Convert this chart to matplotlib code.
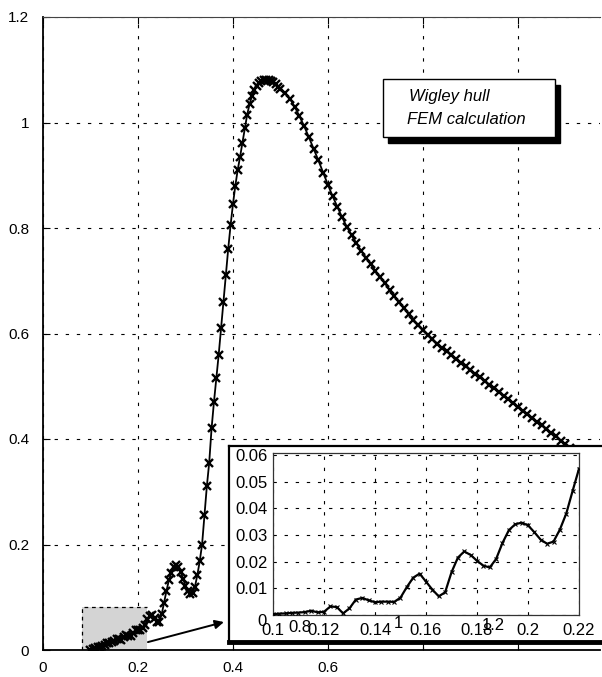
import matplotlib
matplotlib.use('Agg')
import matplotlib.pyplot as plt
from matplotlib.patches import Rectangle

plt.rcParams['font.family'] = ['Liberation Sans', 'DejaVu Sans']
plt.rcParams['hatch.color'] = '#6e6e6e'
plt.rcParams['hatch.linewidth'] = 0.7

# ---------------- data ----------------
x_main = [0.100, 0.105, 0.110, 0.115, 0.120, 0.125, 0.130, 0.135, 0.140, 0.145,
          0.150, 0.155, 0.160, 0.165, 0.170, 0.175, 0.180, 0.185, 0.190, 0.195,
          0.200, 0.205, 0.210, 0.215, 0.220,
          0.225, 0.230, 0.235, 0.240, 0.245, 0.250, 0.255, 0.260, 0.265, 0.270,
          0.275, 0.280, 0.285, 0.290, 0.295, 0.300, 0.305, 0.310, 0.315, 0.320,
          0.325, 0.330, 0.335, 0.340, 0.345, 0.350, 0.355, 0.360, 0.365, 0.370,
          0.375, 0.380, 0.385, 0.390, 0.395, 0.400, 0.405, 0.410, 0.415, 0.420,
          0.425, 0.430, 0.435, 0.440, 0.445, 0.450, 0.455, 0.460, 0.465, 0.470,
          0.475, 0.480, 0.485, 0.490, 0.495, 0.500,
          0.51, 0.52, 0.53, 0.54, 0.55, 0.56, 0.57, 0.58, 0.59, 0.60,
          0.61, 0.62, 0.63, 0.64, 0.65, 0.66, 0.67, 0.68, 0.69, 0.70,
          0.71, 0.72, 0.73, 0.74, 0.75, 0.76, 0.77, 0.78, 0.79, 0.80,
          0.81, 0.82, 0.83, 0.84, 0.85, 0.86, 0.87, 0.88, 0.89, 0.90,
          0.91, 0.92, 0.93, 0.94, 0.95, 0.96, 0.97, 0.98, 0.99, 1.00,
          1.01, 1.02, 1.03, 1.04, 1.05, 1.06, 1.07, 1.08, 1.09, 1.10,
          1.11, 1.12, 1.13, 1.14, 1.15, 1.16, 1.17]
y_main = [0.0005, 0.0015, 0.0030, 0.0050, 0.0060, 0.0085, 0.0095, 0.0130, 0.0140, 0.0150,
          0.0170, 0.0210, 0.0200, 0.0190, 0.0240, 0.0280, 0.0270, 0.0260, 0.0320, 0.0370,
          0.0380, 0.0370, 0.0420, 0.0480, 0.0580,
          0.064, 0.066, 0.061, 0.054, 0.053, 0.068, 0.090, 0.112, 0.132, 0.146,
          0.157, 0.162, 0.158, 0.148, 0.135, 0.122, 0.112, 0.107, 0.108, 0.120,
          0.142, 0.168, 0.200, 0.255, 0.310, 0.355, 0.420, 0.470, 0.515, 0.560,
          0.610, 0.660, 0.710, 0.760, 0.805, 0.845, 0.880, 0.910, 0.935, 0.962,
          0.990, 1.015, 1.035, 1.050, 1.062, 1.070, 1.075, 1.078, 1.080, 1.080,
          1.080, 1.079, 1.077, 1.073, 1.068, 1.063,
          1.055, 1.045, 1.030, 1.012, 0.993, 0.972, 0.950, 0.928, 0.905, 0.882,
          0.860, 0.840, 0.820, 0.802, 0.786, 0.771, 0.757, 0.744, 0.731, 0.719,
          0.707, 0.695, 0.683, 0.671, 0.659, 0.648, 0.637, 0.626, 0.616, 0.606,
          0.597, 0.589, 0.581, 0.573, 0.566, 0.559, 0.552, 0.545, 0.538, 0.531,
          0.524, 0.517, 0.510, 0.503, 0.496, 0.489, 0.482, 0.475, 0.468, 0.461,
          0.454, 0.447, 0.440, 0.433, 0.426, 0.419, 0.412, 0.405, 0.397, 0.390,
          0.383, 0.376, 0.369, 0.362, 0.355, 0.349, 0.343]

x_inset = [0.1000, 0.1025, 0.1050, 0.1075, 0.1100, 0.1125, 0.1150, 0.1175, 0.1200, 0.1225,
           0.1250, 0.1275, 0.1300, 0.1325, 0.1350, 0.1375, 0.1400, 0.1425, 0.1450, 0.1475,
           0.1500, 0.1525, 0.1550, 0.1575, 0.1600, 0.1625, 0.1650, 0.1675, 0.1700, 0.1725,
           0.1750, 0.1775, 0.1800, 0.1825, 0.1850, 0.1875, 0.1900, 0.1925, 0.1950, 0.1975,
           0.2000, 0.2025, 0.2050, 0.2075, 0.2100, 0.2125, 0.2150, 0.2175, 0.2200]
y_inset = [0.0003, 0.0005, 0.0006, 0.0008, 0.0009, 0.0011, 0.0016, 0.0010, 0.0012, 0.0032,
           0.0030, 0.0006, 0.0025, 0.0058, 0.0064, 0.0055, 0.0048, 0.0050, 0.0050, 0.0049,
           0.0065, 0.0105, 0.0140, 0.0155, 0.0125, 0.0095, 0.0070, 0.0085, 0.0160, 0.0215,
           0.0238, 0.0225, 0.0203, 0.0185, 0.0178, 0.0210, 0.0270, 0.0318, 0.0340, 0.0346,
           0.0336, 0.0310, 0.0282, 0.0267, 0.0275, 0.0320, 0.0380, 0.0465, 0.0548]

main_xticks = [0, 0.2, 0.4, 0.6, 0.8, 1.0]
main_xticklabels = ['0', '0.2', '0.4', '0.6', '', '']
main_yticks = [0, 0.2, 0.4, 0.6, 0.8, 1.0, 1.2]
main_yticklabels = ['0', '0.2', '0.4', '0.6', '0.8', '1', '1.2']
inset_xticks = [0.10, 0.12, 0.14, 0.16, 0.18, 0.20, 0.22]
inset_xticklabels = ['0.1', '0.12', '0.14', '0.16', '0.18', '0.2', '0.22']
inset_yticks = [0, 0.01, 0.02, 0.03, 0.04, 0.05, 0.06]
inset_yticklabels = ['', '0.01', '0.02', '0.03', '0.04', '0.05', '0.06']
legend_lines = ['Wigley hull', 'FEM calculation']
stray_labels = ['0', '0.8', '1', '1.2']

# ---------------- layout helpers ----------------
W, H = 602, 677
fig = plt.figure(figsize=(W / 100, H / 100), dpi=100)
fig.patch.set_facecolor('white')


def fx(px):
    return px / W


def fy(py):
    return 1 - py / H


GRID = dict(color='black', linestyle=(0, (3, 7)), linewidth=0.8)

# ---------------- main axes ----------------
ax = fig.add_axes([fx(43), fy(650), fx(600) - fx(43), fy(17) - fy(650)])
ax.set_xlim(0, 1.173)
ax.set_ylim(0, 1.2)
ax.set_xticks(main_xticks)
ax.set_xticklabels(main_xticklabels)
ax.set_yticks(main_yticks)
ax.set_yticklabels(main_yticklabels)
ax.tick_params(direction='in', length=5, width=0.8, labelsize=11, top=True,
               colors='black')
ax.tick_params(axis='x', pad=8)
ax.tick_params(axis='y', pad=10)
ax.grid(True, **GRID)
ax.set_axisbelow(True)
ax.spines['right'].set_visible(False)
ax.spines['top'].set_linewidth(0.8)
ax.spines['top'].set_color('#444444')
ax.spines['left'].set_linewidth(1.3)
ax.spines['bottom'].set_linewidth(1.3)

# shaded zoom region
ax.add_patch(Rectangle((0.083, 0), 0.137, 0.082, facecolor='#d4d4d4',
                       edgecolor='none', hatch='......', zorder=1))
ax.plot([0.083, 0.083, 0.22], [0, 0.082, 0.082], color='black',
        linestyle=(0, (3, 3)), linewidth=0.9, zorder=1.5)

ax.plot(x_main, y_main, color='black', linewidth=1.3, marker='x',
        markersize=6, markeredgewidth=1.7, zorder=3)

ax.annotate('', xy=(0.381, 0.053), xytext=(0.221, 0.015),
            arrowprops=dict(arrowstyle='-|>', color='black', lw=1.4,
                            mutation_scale=13, shrinkA=0, shrinkB=0),
            annotation_clip=False, zorder=4)

# ---------------- legend box ----------------
fig.patches.append(Rectangle((fx(388), fy(143)), 172 / W, 58 / H,
                             transform=fig.transFigure, facecolor='black',
                             edgecolor='black', zorder=5))
fig.patches.append(Rectangle((fx(383), fy(137)), 172 / W, 58 / H,
                             transform=fig.transFigure, facecolor='white',
                             edgecolor='black', linewidth=1.0, zorder=6))
fig.text(fx(409), fy(97), legend_lines[0], style='italic', fontsize=12,
         va='center', ha='left', zorder=7)
fig.text(fx(407), fy(120), legend_lines[1], style='italic', fontsize=12,
         va='center', ha='left', zorder=7)

# ---------------- inset frame ----------------
axf = fig.add_axes([fx(229), fy(642), fx(614) - fx(229), fy(446) - fy(642)])
axf.set_zorder(8)
axf.set_facecolor('white')
axf.set_xticks([])
axf.set_yticks([])
axf.spines['left'].set_linewidth(1.6)
axf.spines['top'].set_linewidth(1.6)
axf.spines['bottom'].set_linewidth(3.5)
axf.spines['right'].set_linewidth(1.6)

# ---------------- inset axes ----------------
axin = fig.add_axes([fx(273), fy(615), fx(579) - fx(273), fy(453) - fy(615)])
axin.set_zorder(9)
axin.set_facecolor('none')
axin.set_xlim(0.1, 0.22)
axin.set_ylim(0, 0.0607)
axin.set_xticks(inset_xticks)
axin.set_xticklabels(inset_xticklabels)
axin.set_yticks(inset_yticks)
axin.set_yticklabels(inset_yticklabels)
axin.tick_params(direction='in', length=0, labelsize=12, colors='black')
axin.tick_params(axis='x', pad=6)
axin.tick_params(axis='y', pad=4)
axin.grid(True, **GRID)
for s in axin.spines.values():
    s.set_linewidth(0.9)
    s.set_color('#333333')
axin.plot(x_inset, y_inset, color='black', linewidth=1.6, marker='x',
          markersize=2.5, markeredgewidth=0.8, zorder=3)

# stray labels printed over the inset axis in the original
stray_pos = [(262, 622), (300, 627), (398, 624), (493, 625)]
for lab, (px, py) in zip(stray_labels, stray_pos):
    fig.text(fx(px), fy(py), lab, fontsize=12, ha='center', va='center',
             zorder=20)

fig.savefig('out.png', dpi=100, facecolor='white')
